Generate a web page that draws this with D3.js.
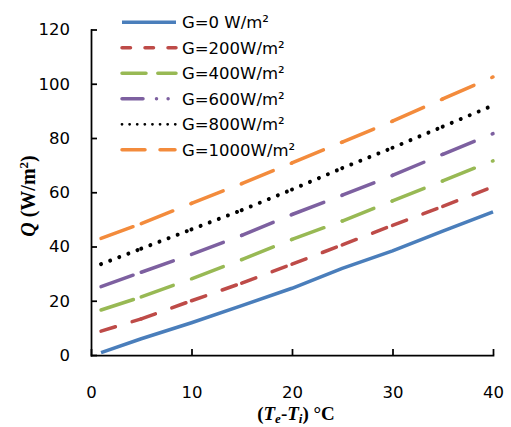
<!DOCTYPE html>
<html>
<head>
<meta charset="utf-8">
<script src="https://cdn.jsdelivr.net/npm/d3@7"></script>
<style>
  body { margin: 0; background: #fff; }
  svg { display: block; }
  .tick text { font-family: "DejaVu Sans", sans-serif; font-size: 16.5px; fill: #000; }
</style>
</head>
<body>
<div id="vis-holder"></div>
<script>
// temperature difference (Te - Ti), degC
const deltaT = [1, 5, 10, 15, 20, 25, 30, 35, 40];

// heat flux Q (W/m2) for each irradiance G
const q0 = [0.9, 6.0, 11.9, 18.2, 24.6, 31.9, 38.4, 45.7, 52.8];
const q200 = [8.8, 13.3, 20.0, 26.5, 33.5, 40.6, 47.8, 54.8, 62.0];
const q400 = [16.6, 21.4, 28.1, 35.2, 42.6, 49.4, 56.8, 64.2, 71.6];
const q600 = [25.2, 30.5, 37.1, 44.1, 51.8, 58.9, 66.2, 74.0, 81.6];
const q800 = [33.5, 39.2, 46.3, 53.4, 61.0, 68.9, 76.4, 84.2, 92.0];
const q1000 = [43.0, 48.4, 55.9, 63.2, 70.8, 78.5, 86.2, 94.4, 102.5];

const seriesNames = ["G=0 W/m²", "G=200W/m²", "G=400W/m²", "G=600W/m²", "G=800W/m²", "G=1000W/m²"];

const xTicks = [0, 10, 20, 30, 40];
const yTicks = [0, 20, 40, 60, 80, 100, 120];

const width = 511, height = 427;

const svg = d3.select("#vis-holder")
    .append("svg")
    .attr("width", width)
    .attr("height", height);

const x = d3.scaleLinear().domain([0, 40]).range([91, 493]);
const y = d3.scaleLinear().domain([0, 120]).range([355, 29.5]);

// line styles: dash is restarted at every data point, like the original
const styles = [
    { color: "#4a7ebb", dash: null, legendDash: null, width: 3.5, cap: "butt" },
    { color: "#be4b48", dash: "15,17.5", legendDash: "8.5,14.5", width: 3.5, cap: "round" },
    { color: "#98b954", dash: "34,19.5", legendDash: "24,11.8", width: 3.5, cap: "round" },
    { color: "#7d60a0", dash: "34,19.5", legendDash: "21,13.5,0.01,11.6,0.01,100", width: 3.5, cap: "round" },
    { color: "#000000", dash: "0.01,9.74", legendDash: "0.01,7.6", width: 4, cap: "round" },
    { color: "#f38b3c", dash: "34,19.5", legendDash: "23,15,15,100", width: 3.5, cap: "round" }
];

const allSeries = [q0, q200, q400, q600, q800, q1000].map(function (vals, i) {
    return {
        name: seriesNames[i],
        style: styles[i],
        points: deltaT.map(function (t, j) { return [t, vals[j]]; })
    };
});

// axes
const xAxis = d3.axisBottom(x)
    .tickValues(xTicks)
    .tickSizeInner(-6)
    .tickSizeOuter(0)
    .tickPadding(31);

const yAxis = d3.axisLeft(y)
    .tickValues(yTicks)
    .tickSizeInner(-6)
    .tickSizeOuter(0)
    .tickPadding(21);

const gx = svg.append("g")
    .attr("transform", "translate(0," + y(0) + ")")
    .call(xAxis);

const gy = svg.append("g")
    .attr("transform", "translate(" + x(0) + ",0)")
    .call(yAxis);

[gx, gy].forEach(function (g) {
    g.selectAll("path, line").attr("stroke", "#000").attr("stroke-width", 1.75);
    g.selectAll("path").attr("stroke-linecap", "square");
});

// series
const line = d3.line()
    .x(function (d) { return x(d[0]); })
    .y(function (d) { return y(d[1]); });

const plot = svg.append("g");

allSeries.forEach(function (s) {
    const g = plot.append("g")
        .attr("fill", "none")
        .attr("stroke", s.style.color)
        .attr("stroke-width", s.style.width)
        .attr("stroke-linecap", s.style.cap)
        .attr("stroke-linejoin", "round");

    if (!s.style.dash) {
        g.append("path").attr("d", line(s.points));
    } else {
        const segs = d3.pairs(s.points);
        g.selectAll("path")
            .data(segs)
            .enter().append("path")
            .attr("d", function (d) { return line(d); })
            .attr("stroke-dasharray", s.style.dash);
    }
});

// legend
const legend = svg.append("g");
const legendRow = d3.scaleLinear().domain([0, 1]).range([22.3, 47.8]);

allSeries.forEach(function (s, i) {
    const ly = legendRow(i);
    legend.append("line")
        .attr("x1", 122)
        .attr("x2", 176)
        .attr("y1", ly)
        .attr("y2", ly)
        .attr("stroke", s.style.color)
        .attr("stroke-width", i === 4 ? 2.8 : 3.5)
        .attr("stroke-linecap", s.style.cap === "round" ? "round" : "butt")
        .attr("stroke-dasharray", s.style.legendDash);

    legend.append("text")
        .attr("x", 182)
        .attr("y", ly + 6)
        .style("font-family", "DejaVu Sans, sans-serif")
        .style("font-size", "16.5px")
        .text(s.name);
});

// axis titles
const yTitle = svg.append("text")
    .attr("transform", "translate(35,196) rotate(-90)")
    .attr("text-anchor", "middle")
    .style("font-family", "Liberation Serif, serif")
    .style("font-weight", "bold")
    .style("font-size", "20px");
yTitle.append("tspan").style("font-style", "italic").text("Q");
yTitle.append("tspan").text(" (W/m");
yTitle.append("tspan").attr("dy", -7).style("font-size", "13px").text("2");
yTitle.append("tspan").attr("dy", 7).text(")");

const xTitle = svg.append("text")
    .attr("x", 296)
    .attr("y", 420)
    .attr("text-anchor", "middle")
    .style("font-family", "Liberation Serif, serif")
    .style("font-weight", "bold")
    .style("font-size", "19px");
xTitle.append("tspan").text("(");
xTitle.append("tspan").style("font-style", "italic").text("T");
xTitle.append("tspan").attr("dy", 3).style("font-style", "italic").style("font-size", "13px").text("e");
xTitle.append("tspan").attr("dy", -3).text("-");
xTitle.append("tspan").style("font-style", "italic").text("T");
xTitle.append("tspan").attr("dy", 3).style("font-style", "italic").style("font-size", "13px").text("i");
xTitle.append("tspan").attr("dy", -3).text(") °C");
</script>
</body>
</html>
